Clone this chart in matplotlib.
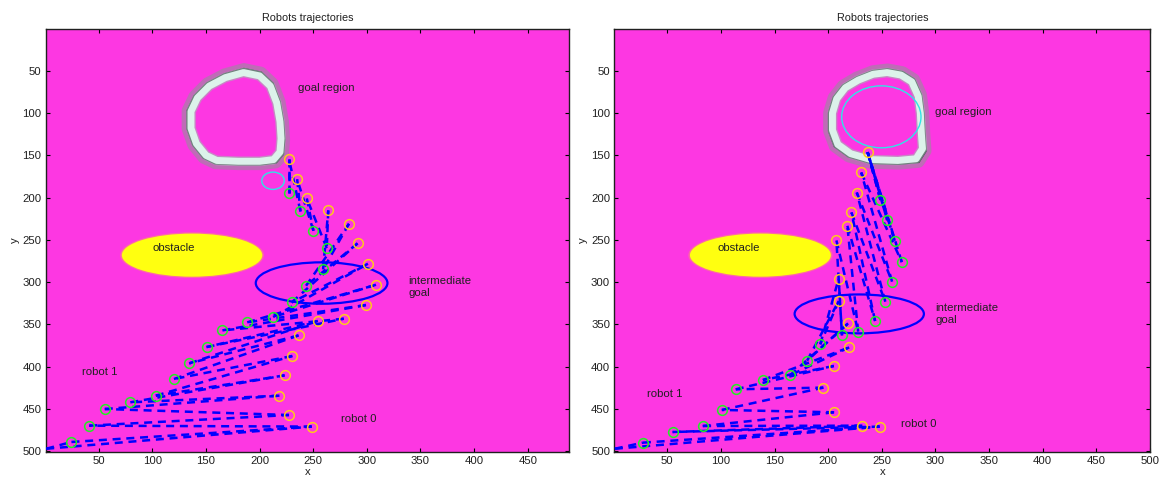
import matplotlib
matplotlib.use("Agg")
import matplotlib.pyplot as plt
from matplotlib.patches import Ellipse, Polygon

plt.rcParams['font.family'] = ['Liberation Sans', 'DejaVu Sans']

# ---------------- data: left panel ----------------
L_robot0_x = [248.5, 227.4, 218.5, 223.3, 230.5, 236.4, 254.4, 278.5, 299.2, 308.5,
              301.0, 291.3, 283.3, 264.0, 244.0, 235.0, 227.4]
L_robot0_y = [470.8, 457.1, 434.2, 410.2, 387.3, 362.9, 345.9, 343.2, 327.0, 303.0,
              278.2, 254.1, 230.9, 215.1, 200.9, 178.1, 154.5]
L_robot1_x = [24.5, 41.1, 55.6, 79.4, 103.2, 120.1, 134.3, 150.5, 165.3, 188.4,
              212.6, 229.9, 243.3, 259.2, 262.6, 250.2, 238.1, 227.4]
L_robot1_y = [489.0, 469.7, 450.0, 442.1, 434.2, 414.5, 396.0, 376.7, 357.0, 347.5,
              341.2, 323.9, 304.2, 284.9, 259.7, 239.2, 216.3, 195.0]
L_start = (1.0, 497.0)
L_goal_x = [185, 200, 210, 216, 219, 220, 219, 213, 200, 180, 160, 150, 141, 136, 136, 142, 153, 168, 185]
L_goal_y = [52, 56, 68, 88, 110, 130, 146, 155, 157, 157, 156, 150, 136, 118, 98, 82, 68, 58, 52]
L_small_circle = (212.5, 180.0, 21.0, 20.5)
L_obstacle = (137.0, 268.0, 131.0, 51.0)
L_inter_goal = (257.8, 301.0, 122.8, 49.0)
L_xticks = [50, 100, 150, 200, 250, 300, 350, 400, 450]
L_xlim = (0.5, 488.5)
L_texts = [("goal region", 236, 70), ("obstacle", 100, 260),
           ("intermediate\ngoal", 339, 306), ("robot 1", 34, 406), ("robot 0", 276, 462)]

# ---------------- data: right panel ----------------
R_robot0_x = [248.0, 231.9, 205.6, 195.5, 205.3, 219.6, 218.6, 209.8, 209.8, 207.7,
              217.9, 221.7, 226.7, 230.8, 236.8]
R_robot0_y = [470.8, 469.7, 453.9, 424.7, 399.1, 377.1, 348.7, 322.3, 295.9, 250.6,
              233.3, 217.5, 193.9, 170.2, 146.2]
R_robot1_x = [27.2, 54.9, 82.9, 100.8, 113.8, 139.1, 164.3, 180.4, 192.6, 212.9,
              228.0, 243.8, 253.3, 259.6, 268.7, 262.1, 255.1, 248.8]
R_robot1_y = [489.8, 477.2, 470.1, 451.1, 426.7, 415.7, 410.2, 392.8, 373.5, 362.9,
              358.5, 345.9, 323.1, 299.4, 276.2, 251.0, 226.6, 202.9]
R_start = (1.0, 497.0)
R_goal_x = [228, 242, 255, 268, 278, 284, 286, 287, 288, 282, 265, 240, 221, 209, 204, 204, 208, 216, 228]
R_goal_y = [61, 54, 52, 55, 63, 80, 100, 125, 142, 154, 156, 155, 148, 137, 120, 100, 83, 70, 61]
R_small_circle = (249.6, 104.4, 74.0, 73.3)
R_obstacle = (136.8, 268.0, 131.5, 51.0)
R_inter_goal = (229.0, 337.5, 120.6, 46.0)
R_xticks = [50, 100, 150, 200, 250, 300, 350, 400, 450, 500]
R_xlim = (0.5, 500.5)
R_texts = [("goal region", 300, 99), ("obstacle", 97, 260),
           ("intermediate\ngoal", 300, 338), ("robot 1", 31, 432), ("robot 0", 268, 468)]

yticks = [50, 100, 150, 200, 250, 300, 350, 400, 450, 500]
ylim = (500.5, 0.5)

BG = '#fd37e2'
BLUE = '#0000ff'
YEL_MK = '#ffc81e'
GRN_MK = '#22ee22'


def draw(ax, r0x, r0y, r1x, r1y, start, gx, gy, circ, obst, inter, xticks, xlim, texts):
    ax.set_facecolor(BG)
    ax.set_xlim(*xlim)
    ax.set_ylim(*ylim)
    # goal region (blurred ring)
    pts = list(zip(gx, gy))
    mx = sum(gx[:-1]) / (len(gx) - 1)
    my = sum(gy[:-1]) / (len(gy) - 1)
    outer = [(mx + 1.065 * (x - mx), my + 1.065 * (y - my)) for x, y in pts]
    ax.add_patch(Polygon(outer, closed=True, fill=False, edgecolor='#8c9694', lw=9, alpha=0.55, joinstyle='round', zorder=2))
    ax.add_patch(Polygon(outer, closed=True, fill=False, edgecolor='#1c2c2a', lw=2.2, joinstyle='round', zorder=2))
    ax.add_patch(Polygon(pts, closed=True, fill=False, edgecolor='#a8b8b4', lw=7.0, alpha=0.6, joinstyle='round', zorder=2))
    ax.add_patch(Polygon(pts, closed=True, fill=False, edgecolor='#dcf2ea', lw=5.0, joinstyle='round', zorder=2))
    # cyan circle
    cx, cy, cw, ch = circ
    ax.add_patch(Ellipse((cx, cy), cw, ch, fill=False, edgecolor='#2ee6e6', lw=1.0, zorder=3))
    # obstacle
    ox, oy, ow, oh = obst
    ax.add_patch(Ellipse((ox, oy), ow + 3, oh + 3, facecolor='#fb9a6a', edgecolor='none', alpha=0.5, zorder=2))
    ax.add_patch(Ellipse((ox, oy), ow, oh, facecolor='#ffff10', edgecolor='none', zorder=2))
    # intermediate goal
    ix, iy, iw, ih = inter
    ax.add_patch(Ellipse((ix, iy), iw, ih, fill=False, edgecolor=BLUE, lw=1.6, zorder=4))
    # trajectories: dashed links between robots
    n = len(r1x)
    m = len(r0x)
    segs = [((start[0], start[1]), (r1x[0], r1y[0])), ((start[0], start[1]), (r0x[0], r0y[0]))]
    for k in range(n):
        j = min(k, m - 1)
        segs.append(((r1x[k], r1y[k]), (r0x[j], r0y[j])))
        if k + 1 < n:
            segs.append(((r0x[j], r0y[j]), (r1x[k + 1], r1y[k + 1])))
    for (a, b) in segs:
        ax.plot([a[0], b[0]], [a[1], b[1]], color=BLUE, lw=1.8, ls=(0, (3.2, 2.3)), zorder=5)
    ax.plot(r0x, r0y, ls='none', marker='o', ms=7, mfc='none', mec=YEL_MK, mew=1.1, zorder=6)
    ax.plot(r1x, r1y, ls='none', marker='o', ms=7, mfc='none', mec=GRN_MK, mew=1.1, zorder=6)
    for t, x, y in texts:
        ax.text(x, y, t, fontsize=8.2, color='#202020', va='center', ha='left', zorder=7, linespacing=1.25)
    ax.set_xticks(xticks)
    ax.set_yticks(yticks)
    ax.tick_params(direction='in', length=3.2, width=0.8, labelsize=8.2, top=True, right=True,
                   labelcolor='#202020', pad=3)
    for s in ax.spines.values():
        s.set_linewidth(1.0)
        s.set_color('#202020')
    ax.set_xlabel('x', fontsize=8.2, color='#202020', labelpad=1)
    ax.set_ylabel('y', fontsize=8.2, color='#202020', labelpad=2)
    ax.set_title('Robots trajectories', fontsize=7.8, color='#202020', pad=6)


fig = plt.figure(figsize=(11.69, 4.83), dpi=100)
axL = fig.add_axes([0.03909, 0.0648, 0.44765, 0.87516])
axR = fig.add_axes([0.52549, 0.0648, 0.45851, 0.87516])
draw(axL, L_robot0_x, L_robot0_y, L_robot1_x, L_robot1_y, L_start, L_goal_x, L_goal_y,
     L_small_circle, L_obstacle, L_inter_goal, L_xticks, L_xlim, L_texts)
draw(axR, R_robot0_x, R_robot0_y, R_robot1_x, R_robot1_y, R_start, R_goal_x, R_goal_y,
     R_small_circle, R_obstacle, R_inter_goal, R_xticks, R_xlim, R_texts)
fig.savefig('out.png', dpi=100)
